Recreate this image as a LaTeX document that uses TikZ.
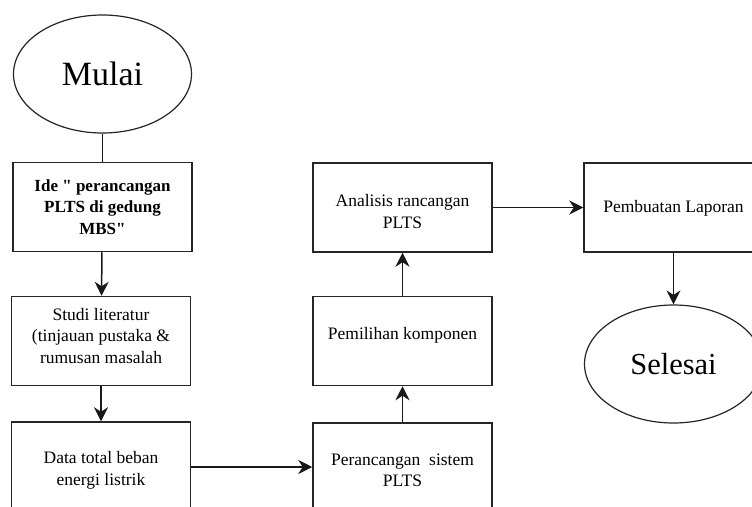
\documentclass[tikz,border=0pt]{standalone}
\usepackage{fontspec}
\setmainfont{Liberation Serif}[Ligatures=TeXOff]
\usetikzlibrary{arrows.meta,shapes.geometric}
\begin{document}
\begin{tikzpicture}[x=1pt,y=-1pt,
  boxstyle/.style={draw=black!85,line width=1.5pt,rectangle,minimum width=179pt,minimum height=89pt,inner sep=0pt},
  boxtext/.style={inner sep=0pt,align=center,font=\fontsize{17.5}{21.5}\selectfont},
  ovalstyle/.style={draw=black!85,line width=1.2pt,ellipse,minimum width=178pt,minimum height=118pt,inner sep=0pt},
  conn/.style={line width=1.5pt,draw=black!90},
  arr/.style={conn,-{Stealth[length=14pt,width=14pt,inset=4.5pt]}}]
\useasboundingbox (0,0) rectangle (752,506);
\clip (0,0) rectangle (752,506);
\fill[white] (0,0) rectangle (752,506);
\node[ovalstyle,font=\fontsize{34}{40}\selectfont] (mulai) at (102.5,74) {Mulai};
\node[boxstyle] (ide) at (102.5,207) {};
\node[boxtext,font=\bfseries\fontsize{17}{21.5}\selectfont] (idet) at (102.5,207) {Ide " perancangan\\PLTS di gedung\\MBS"};
\node[boxstyle] (studi) at (101,341) {};
\node[boxtext] (studit) at (101,336) {Studi literatur\\(tinjauan pustaka \&\\rumusan masalah};
\node[boxstyle] (data) at (101,466.5) {};
\node[boxtext] (datat) at (101,470.5) {Data total beban\\energi listrik};
\node[boxstyle] (per) at (402.5,467.5) {};
\node[boxtext] (pert) at (402.5,470.5) {Perancangan\ \ sistem\\PLTS};
\node[boxstyle] (pem) at (402.5,341) {};
\node[boxtext] (pemt) at (402.5,335) {Pemilihan komponen};
\node[boxstyle] (ana) at (402.5,207.5) {};
\node[boxtext] (anat) at (402.5,211.5) {Analisis rancangan\\PLTS};
\node[boxstyle] (lap) at (673.5,207.5) {};
\node[boxtext] (lapt) at (673.5,208) {Pembuatan Laporan};
\node[ovalstyle,font=\fontsize{30.5}{36}\selectfont] (sel) at (673.5,364) {Selesai};
\draw[conn] (mulai) -- (ide);
\draw[arr] (ide) -- (studi);
\draw[arr] (studi) -- (data);
\draw[arr] (data.east |- 0,467) -- (per.west |- 0,467);
\draw[arr] (per) -- (pem);
\draw[arr] (pem) -- (ana);
\draw[arr] (ana) -- (lap);
\draw[arr] (lap) -- (sel);
\end{tikzpicture}
\end{document}
